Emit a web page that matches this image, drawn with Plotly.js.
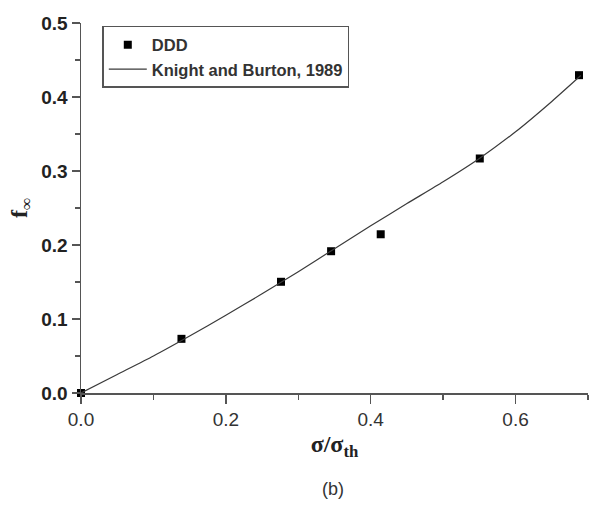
<!DOCTYPE html>
<html>
<head>
<meta charset="utf-8">
<script src="https://cdn.plot.ly/plotly-3.0.1.min.js"></script>
<style>
  html, body { margin: 0; padding: 0; background: #fff; }
  #chart { width: 589px; height: 508px; }
</style>
</head>
<body>
<div id="chart"></div>
<script>
// DDD simulation results: normalised stress vs. f∞
const dddStress = [0.0, 0.1387, 0.2761, 0.3453, 0.4138, 0.5506, 0.6876];
const dddF      = [0.0, 0.0732, 0.1503, 0.1916, 0.2145, 0.3169, 0.4295];

// Knight and Burton (1989) relation, sampled along its curve
const kbStress = [0.0, 0.05, 0.10, 0.15, 0.20, 0.25, 0.30, 0.35, 0.40, 0.45, 0.50, 0.55, 0.60, 0.65, 0.69];
const kbF      = [0.0, 0.025, 0.050, 0.077, 0.105, 0.134, 0.164, 0.195, 0.226, 0.256, 0.2855, 0.317, 0.353, 0.394, 0.429];

const xTickVals = [0.0, 0.2, 0.4, 0.6];
const yTickVals = [0.0, 0.1, 0.2, 0.3, 0.4, 0.5];

const traces = [
  {
    x: dddStress, y: dddF,
    name: 'DDD',
    type: 'scatter', mode: 'markers',
    marker: { symbol: 'square', size: 8, color: '#000' },
    cliponaxis: false
  },
  {
    x: kbStress, y: kbF,
    name: 'Knight and Burton, 1989',
    type: 'scatter', mode: 'lines',
    line: { color: '#3a3a3a', width: 1.2, shape: 'spline', smoothing: 0.6 }
  }
];

const axisCommon = {
  showline: true, linecolor: '#555', linewidth: 1.5,
  showgrid: false, zeroline: false,
  ticks: 'outside', tickcolor: '#555', tickwidth: 1.5,
  tickformat: '.1f', mirror: false
};

const layout = {
  width: 589, height: 508,
  paper_bgcolor: '#fff', plot_bgcolor: '#fff',
  margin: { l: 81, r: 1, t: 23, b: 115 },
  showlegend: true,
  legend: {
    x: 0.042, y: 0.992, xanchor: 'left', yanchor: 'top',
    bgcolor: '#fff', bordercolor: '#555', borderwidth: 1.5,
    itemwidth: 38,
    font: { family: 'Liberation Sans, Arial, sans-serif', size: 16.5, weight: 'bold', color: '#333' },
    traceorder: 'normal'
  },
  xaxis: Object.assign({}, axisCommon, {
    range: [0, 0.7],
    tickmode: 'array', tickvals: xTickVals,
    ticklen: 9,
    minor: { dtick: 0.1, tick0: 0, ticklen: 5, tickcolor: '#555', tickwidth: 1.5, ticks: 'outside' },
    tickfont: { family: 'Liberation Sans, Arial, sans-serif', size: 19, color: '#333' },
    title: {
      text: 'σ/σ<sub>th</sub>',
      font: { family: 'Liberation Serif, Times New Roman, serif', size: 24, weight: 'bold', color: '#222' },
      standoff: 6
    }
  }),
  yaxis: Object.assign({}, axisCommon, {
    range: [0, 0.5],
    tickmode: 'array', tickvals: yTickVals,
    ticklen: 8,
    minor: { dtick: 0.05, tick0: 0, ticklen: 5, tickcolor: '#555', tickwidth: 1.5, ticks: 'outside' },
    tickfont: { family: 'Liberation Sans, Arial, sans-serif', size: 19, weight: 'bold', color: '#222' },
    title: {
      text: 'f<sub>∞</sub>',
      font: { family: 'Liberation Serif, Times New Roman, serif', size: 24, weight: 'bold', color: '#222' },
      standoff: 7
    }
  }),
  annotations: [
    {
      text: '(b)', xref: 'paper', yref: 'paper',
      x: 0.497, y: -0.26, xanchor: 'center', yanchor: 'middle',
      showarrow: false,
      font: { family: 'Liberation Sans, Arial, sans-serif', size: 18, color: '#333' }
    }
  ]
};

Plotly.newPlot('chart', traces, layout, { displayModeBar: false, staticPlot: true });
</script>
</body>
</html>
